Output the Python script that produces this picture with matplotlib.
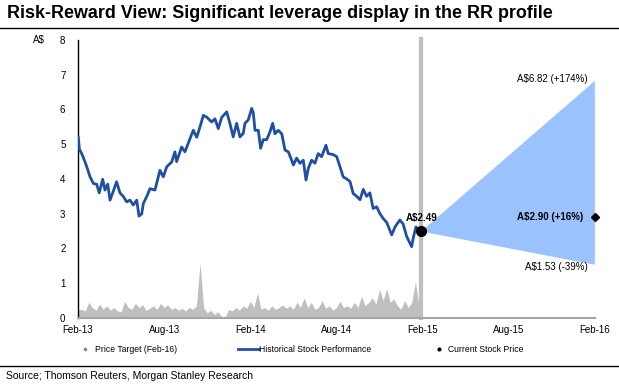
import numpy as np
import matplotlib
matplotlib.use('Agg')
import matplotlib.pyplot as plt
from matplotlib.lines import Line2D

plt.rcParams['font.family'] = ['Liberation Sans', 'DejaVu Sans']

# x positions are months since Feb-13
TICK_LABELS = ['Feb-13', 'Aug-13', 'Feb-14', 'Aug-14', 'Feb-15', 'Aug-15', 'Feb-16']
TICK_POS = [0, 6, 12, 18, 24, 30, 36]

price_m = [0.02, 0.10, 0.26, 0.49, 0.61, 0.84, 1.07, 1.30, 1.48, 1.72, 1.88, 2.07, 2.23, 2.42,
           2.69, 2.92, 3.15, 3.39, 3.62, 3.85, 4.09, 4.25, 4.44, 4.55, 4.83, 5.01, 5.36, 5.71,
           5.94, 6.18, 6.53, 6.75, 6.87, 7.22, 7.45, 7.68, 8.03, 8.27, 8.50, 8.73, 8.96, 9.31,
           9.54, 9.77, 10.01, 10.36, 10.58, 10.81, 11.05, 11.28, 11.51, 11.63, 11.86, 12.10,
           12.21, 12.33, 12.56, 12.72, 12.90, 13.14, 13.37, 13.56, 13.72, 13.95, 14.19, 14.42,
           14.65, 14.88, 15.00, 15.23, 15.46, 15.69, 15.88, 16.04, 16.27, 16.50, 16.73, 16.97,
           17.27, 17.43, 17.78, 18.02, 18.25, 18.47, 18.71, 18.94, 19.17, 19.41, 19.64, 19.87,
           20.10, 20.33, 20.56, 20.80, 21.03, 21.26, 21.50, 21.85, 22.08, 22.42, 22.65, 22.89,
           23.12, 23.24, 23.35, 23.54, 23.70, 23.89]
price_v = [5.20, 4.85, 4.73, 4.49, 4.35, 4.06, 3.87, 3.85, 3.60, 3.99, 3.68, 3.85, 3.39, 3.60,
           3.92, 3.60, 3.50, 3.34, 3.39, 3.25, 3.39, 2.93, 3.00, 3.29, 3.53, 3.72, 3.68, 4.25,
           4.06, 4.35, 4.49, 4.78, 4.50, 4.92, 4.78, 5.03, 5.40, 5.20, 5.50, 5.83, 5.78, 5.64,
           5.73, 5.45, 5.77, 5.93, 5.60, 5.21, 5.60, 5.21, 5.31, 5.60, 5.70, 6.03,
           5.90, 5.40, 5.40, 4.88, 5.13, 5.13, 5.35, 5.60, 5.30, 5.40, 5.30, 4.83,
           4.78, 4.54, 4.40, 4.60, 4.45, 4.54, 3.97, 4.30, 4.54, 4.45, 4.73, 4.64,
           4.97, 4.73, 4.70, 4.64, 4.35, 4.06, 4.00, 3.93, 3.58, 3.50, 3.40, 3.70,
           3.50, 3.60, 3.15, 3.20, 3.00, 2.86, 2.75, 2.39, 2.62, 2.82, 2.70, 2.35,
           2.15, 2.05, 2.30, 2.62, 2.55, 2.49]

# weekly volume (months 0..24 in quarter-month steps)
volume_v = [0.22, 0.25, 0.20, 0.45,
            0.30, 0.22, 0.40, 0.25,
            0.35, 0.22, 0.30, 0.20,
            0.18, 0.48, 0.30, 0.25,
            0.42, 0.30, 0.38, 0.22,
            0.28, 0.35, 0.25, 0.42,
            0.30, 0.38, 0.25, 0.30,
            0.22, 0.28, 0.20, 0.30,
            0.25, 0.35, 1.58, 0.30,
            0.15, 0.22, 0.10, 0.18,
            0.05, 0.02, 0.25, 0.20,
            0.30, 0.22, 0.35, 0.28,
            0.48, 0.30, 0.72, 0.25,
            0.30, 0.22, 0.35, 0.25,
            0.30, 0.38, 0.28, 0.35,
            0.25, 0.45, 0.30, 0.58,
            0.30, 0.45, 0.25, 0.30,
            0.50, 0.28, 0.35, 0.22,
            0.30, 0.48, 0.30, 0.35,
            0.28, 0.45, 0.30, 0.62,
            0.35, 0.45, 0.58, 0.40,
            0.82, 0.50, 0.84, 0.45,
            0.55, 0.35, 0.25, 0.50,
            0.30, 0.45, 1.05, 0.35,
            0.25]
volume_m = np.arange(len(volume_v)) * 0.25

current_m, current_p = 23.9, 2.49
target_m = 36
bull, base, bear = 6.82, 2.90, 1.53

fig = plt.figure(figsize=(6.19, 3.84), dpi=100)
ax = fig.add_axes([0.126, 0.172, 0.835, 0.724])

ax.fill_between(volume_m, 0, volume_v, color='#BFBFBF', lw=0)
ax.axvline(current_m, ymax=1.005, color='#BFBFBF', lw=3, zorder=1, clip_on=False)
ax.fill([current_m, target_m, target_m], [current_p, bull, bear], color='#99C2FF', lw=0, zorder=2)
ax.plot(price_m, price_v, color='#1F4FA3', lw=2.0, zorder=3)
ax.plot(current_m, current_p, 'o', color='black', ms=7, zorder=4)
ax.plot(target_m, base, 'D', color='black', ms=4.5, zorder=4, clip_on=False)

ax.text(current_m, current_p + 0.38, 'A$2.49', fontsize=7, fontweight='bold', ha='center', va='center')
ax.text(35.5, bull + 0.05, 'A$6.82 (+174%)', fontsize=7, ha='right', va='center')
ax.text(35.2, base, 'A$2.90 (+16%)', fontsize=7, fontweight='bold', ha='right', va='center')
ax.text(35.5, bear - 0.05, 'A$1.53 (-39%)', fontsize=7, ha='right', va='center')

ax.set_xlim(0, 36)
ax.set_ylim(0, 8)
ax.set_xticks(TICK_POS)
ax.set_xticklabels(TICK_LABELS)
ax.set_yticks(range(9))
ax.tick_params(length=0, labelsize=7, pad=5)
ax.tick_params(axis='y', pad=9)
for s in ['top', 'right']:
    ax.spines[s].set_visible(False)
ax.spines['left'].set_color('black')
ax.spines['left'].set_linewidth(1)
ax.spines['bottom'].set_color('#A6A6A6')
ax.spines['bottom'].set_linewidth(1.5)
fig.text(33/619, 1 - 40/384, 'A$', fontsize=7, va='center')

# title and rules
fig.text(7/619, 1 - 14/384, 'Risk-Reward View: Significant leverage display in the RR profile',
         fontsize=12.9, fontweight='bold', va='center')
fig.add_artist(Line2D([0, 1], [1 - 28/384, 1 - 28/384], color='black', lw=1))
fig.add_artist(Line2D([0, 1], [1 - 366/384, 1 - 366/384], color='black', lw=1))
fig.text(6/619, 1 - 376/384, 'Source; Thomson Reuters, Morgan Stanley Research', fontsize=7.5, va='center')

# legend row
ly = 1 - 349/384
fig.add_artist(Line2D([85/619], [ly], marker='o', ms=1.5, color='#7F7F7F', lw=0))
fig.text(95/619, ly, 'Price Target (Feb-16)', fontsize=6.2, va='center')
fig.add_artist(Line2D([238/619, 259/619], [ly, ly], color='#1F4FA3', lw=2))
fig.text(259/619, ly, 'Historical Stock Performance', fontsize=6.2, va='center')
fig.add_artist(Line2D([439/619], [ly], marker='o', ms=2, color='black', lw=0))
fig.text(448/619, ly, 'Current Stock Price', fontsize=6.2, va='center')

fig.savefig('out.png', dpi=100)
